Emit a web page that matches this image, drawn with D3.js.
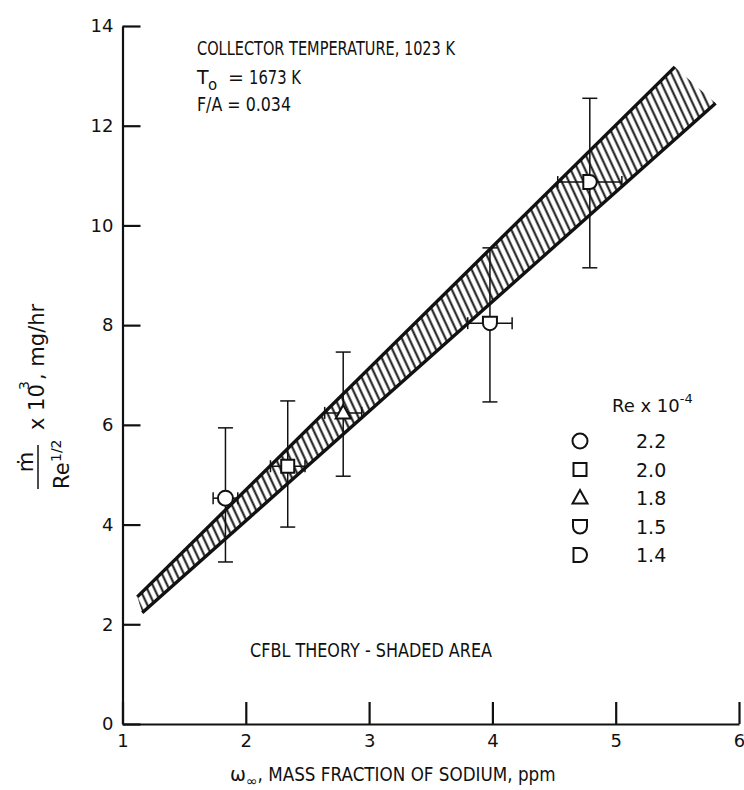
<!DOCTYPE html>
<meta charset="utf-8">
<head>
<title>Sodium deposition vs mass fraction</title>
<script src="https://cdn.jsdelivr.net/npm/d3@7"></script>
<style>
body { margin: 0; background: #fff; }
text {
  font-family: 'DejaVu Sans', sans-serif;
  fill: #111;
}
.axis path, .axis line { stroke: #111; stroke-width: 2.2px; }
.axis text { font-size: 18px; font-family: 'DejaVu Sans', sans-serif; }
.edge { stroke: #111; stroke-width: 3.4px; fill: none; }
.err { stroke: #111; stroke-width: 1.5px; }
.mark { fill: #fff; stroke: #111; stroke-width: 2px; }
</style>
</head>
<body>
<script>
// data
var reLabels = ["2.2", "2.0", "1.8", "1.5", "1.4"];
var markerTypes = ["circle", "square", "triangle", "cup", "dee"];
var xVals = [1.835, 2.34, 2.79, 3.98, 4.79];
var yVals = [4.53, 5.17, 6.24, 8.04, 10.87];
var yLow  = [3.25, 3.95, 4.97, 6.46, 9.15];
var yHigh = [5.94, 6.48, 7.46, 9.55, 12.55];
var xErr  = [0.10, 0.14, 0.15, 0.18, 0.26];
// CFBL theory band edges (x, y)
var theoryUpper = [[1.12, 2.55], [5.48, 13.18]];
var theoryLower = [[1.16, 2.23], [5.81, 12.45]];
var xTicks = [1, 2, 3, 4, 5, 6];
var yTicks = [0, 2, 4, 6, 8, 10, 12, 14];

var width = 744, height = 790;
var svg = d3.select("body").append("svg")
    .attr("width", width).attr("height", height);

var x = d3.scaleLinear().domain([1, 6]).range([122.5, 739]);
var y = d3.scaleLinear().domain([0, 14]).range([724, 26]);

// hatch pattern for shaded area
var defs = svg.append("defs");
defs.append("pattern")
    .attr("id", "hatch")
    .attr("patternUnits", "userSpaceOnUse")
    .attr("width", 6.6).attr("height", 10)
    .attr("patternTransform", "rotate(-25)")
  .append("line")
    .attr("x1", 3.3).attr("y1", -2).attr("x2", 3.3).attr("y2", 12)
    .attr("stroke", "#111").attr("stroke-width", 2);

// axes, ticks pointing inward
svg.append("g").attr("class", "axis")
    .attr("transform", "translate(" + x(1) + ",0)")
    .call(d3.axisLeft(y).tickValues(yTicks).tickFormat(d3.format("d"))
      .tickSizeInner(-18).tickSizeOuter(0).tickPadding(9));
svg.append("g").attr("class", "axis")
    .attr("transform", "translate(0," + y(0) + ")")
    .call(d3.axisBottom(x).tickValues(xTicks).tickFormat(d3.format("d"))
      .tickSizeInner(-22).tickSizeOuter(0).tickPadding(10));
svg.selectAll(".axis .domain").attr("stroke-width", 2.4);

// shaded theory band
var band = [theoryUpper[0], theoryUpper[1], theoryLower[1], theoryLower[0]];
svg.append("path")
    .attr("d", d3.line().x(function(d){return x(d[0]);}).y(function(d){return y(d[1]);})(band) + "Z")
    .attr("fill", "url(#hatch)");
[theoryUpper, theoryLower].forEach(function(l){
  svg.append("line").attr("class", "edge")
      .attr("x1", x(l[0][0])).attr("y1", y(l[0][1]))
      .attr("x2", x(l[1][0])).attr("y2", y(l[1][1]));
});

function markerPath(t) {
  switch (t) {
    case "square": return "M-6.5,-6.5H6.5V6.5H-6.5Z";
    case "triangle": return "M0,-8L7.5,5.5H-7.5Z";
    case "cup": return "M-7,-6.5H7V0A7,7 0 0 1 -7,0Z";
    case "dee": return "M-6.5,-7V7H0A7,7 0 0 0 0,-7Z";
    default: return "M7.5,0A7.5,7.5 0 1 1 -7.5,0A7.5,7.5 0 1 1 7.5,0Z";
  }
}

// error bars and points
var pts = svg.append("g");
xVals.forEach(function(xv, i){
  var g = pts.append("g");
  var cx = x(xv), cy = y(yVals[i]);
  g.append("line").attr("class", "err").attr("x1", cx).attr("x2", cx).attr("y1", y(yHigh[i])).attr("y2", y(yLow[i]));
  [yHigh[i], yLow[i]].forEach(function(v){
    g.append("line").attr("class", "err").attr("x1", cx - 7.5).attr("x2", cx + 7.5).attr("y1", y(v)).attr("y2", y(v));
  });
  var xl = x(xv - xErr[i]), xr = x(xv + xErr[i]);
  g.append("line").attr("class", "err").attr("x1", xl).attr("x2", xr).attr("y1", cy).attr("y2", cy);
  [xl, xr].forEach(function(v){
    g.append("line").attr("class", "err").attr("x1", v).attr("x2", v).attr("y1", cy - 6).attr("y2", cy + 6);
  });
  g.append("path").attr("class", "mark").attr("d", markerPath(markerTypes[i]))
      .attr("transform", "translate(" + cx + "," + cy + ")");
});

// condensed-looking text helper
function label(px, py, size, str, len) {
  var t = svg.append("text").attr("x", px).attr("y", py).style("font-size", size + "px").text(str);
  if (len) t.attr("textLength", len).attr("lengthAdjust", "spacingAndGlyphs");
  return t;
}

// legend
var leg = svg.append("g");
var hdr = leg.append("text").attr("x", 612).attr("y", 412).style("font-size", "18px");
hdr.append("tspan").text("Re x 10");
hdr.append("tspan").attr("dy", -9).style("font-size", "13px").text("-4");
reLabels.forEach(function(r, i){
  var yy = 441 + i * 28.5;
  leg.append("path").attr("class", "mark").attr("d", markerPath(markerTypes[i]))
      .attr("transform", "translate(580," + yy + ")");
  leg.append("text").attr("x", 636).attr("y", yy + 7).style("font-size", "19px").text(r);
});

// annotations
label(197, 55, 19, "COLLECTOR TEMPERATURE, 1023 K", 258);
label(197, 84, 19, "T");
label(208, 90, 15, "o");
label(228, 84, 19, "=");
label(249, 84, 19, "1673 K", 52);
label(197, 111, 19, "F/A = 0.034", 94);
label(250, 657, 19, "CFBL THEORY - SHADED AREA", 242);

// x axis title
var xt = svg.append("text").attr("x", 230).attr("y", 781).style("font-size", "19px");
xt.append("tspan").text("\u03c9");
xt.append("tspan").attr("dy", 5).style("font-size", "14px").text("\u221e");
xt.append("tspan").attr("dy", -5).attr("textLength", 298).attr("lengthAdjust", "spacingAndGlyphs")
    .text(", MASS FRACTION OF SODIUM, ppm");

// y axis title (rotated, reads upward)
var yl = svg.append("g").attr("transform", "rotate(-90)");
yl.append("text").attr("x", -462).attr("y", 33).attr("text-anchor", "middle").style("font-size", "21px").text("\u1e41");
yl.append("line").attr("x1", -489).attr("x2", -445).attr("y1", 38).attr("y2", 38).attr("stroke", "#111").attr("stroke-width", 1.5);
yl.append("text").attr("x", -489).attr("y", 69).style("font-size", "21px").text("Re");
yl.append("text").attr("x", -462).attr("y", 61).style("font-size", "14px").text("1/2");
yl.append("text").attr("x", -430).attr("y", 44).style("font-size", "21px").text("x 10");
yl.append("text").attr("x", -390).attr("y", 29).style("font-size", "14px").text("3");
yl.append("text").attr("x", -380).attr("y", 44).style("font-size", "21px").text(", mg/hr");
</script>
</body>
